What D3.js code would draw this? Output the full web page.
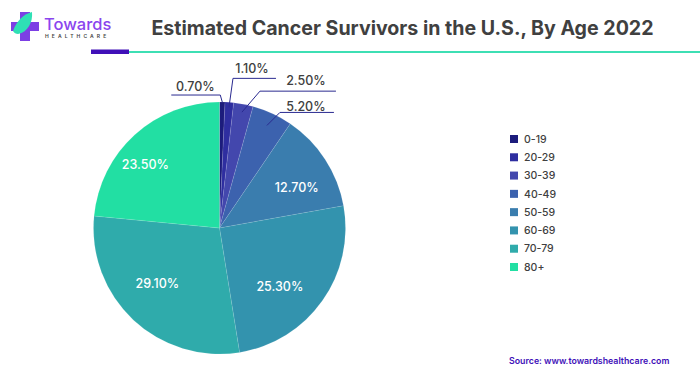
<!DOCTYPE html>
<html>
<head>
<meta charset="utf-8">
<script src="https://cdn.jsdelivr.net/npm/d3@7"></script>
<style>
html, body { margin: 0; padding: 0; background: #fff; }
svg { display: block; }
text { font-family: Inter, "Liberation Sans", sans-serif; }
</style>
</head>
<body>
<svg id="chart" width="700" height="375"></svg>
<script>
let ageGroups = ['0-19', '20-29', '30-39', '40-49', '50-59', '60-69', '70-79', '80+']
let shares = [0.7, 1.1, 2.5, 5.2, 12.7, 25.3, 29.1, 23.5]
let sliceColors = ['#1c1c7c', '#2e2ea0', '#4347ad', '#3c62ae', '#3a7dae', '#3393ae', '#2fabab', '#22dfa3']

let svg = d3.select('#chart')
let centerX = 219.5
let centerY = 228
let radius = 126

// logo
let logo = svg.append('g')
logo.append('path')
    .attr('d', 'M20 12H30V22H39V31H30V41H20V31H11V22H20Z')
    .attr('fill', '#7c3fe4')
logo.append('path')
    .attr('d', 'M13 31C17 20 24 14 32 12C33 22 28 32 18 34C16 34 14 33 13 31Z')
    .attr('fill', '#2fe0b5')
logo.append('text')
    .attr('x', 44).attr('y', 29.5)
    .attr('font-size', 16.5).attr('font-weight', 500)
    .attr('fill', '#8a45ee')
    .text('Towards')
logo.append('text')
    .attr('x', 45).attr('y', 38)
    .attr('font-size', 5).attr('font-weight', 600)
    .attr('letter-spacing', 3.1)
    .attr('fill', '#444')
    .text('HEALTHCARE')

// title and the rule under it
svg.append('text')
    .attr('x', 402.5).attr('y', 34.5)
    .attr('text-anchor', 'middle')
    .attr('font-size', 19.6).attr('font-weight', 700)
    .attr('fill', '#404040')
    .text('Estimated Cancer Survivors in the U.S., By Age 2022')
svg.append('rect').attr('x', 91).attr('y', 51).attr('width', 609).attr('height', 2).attr('fill', '#3ddfb4')
svg.append('rect').attr('x', 91).attr('y', 49.5).attr('width', 38).attr('height', 4.5).attr('fill', '#4010b8')

// pie
let pie = d3.pie().value(d => d).sort(null)
let arcs = pie(shares)
let arc = d3.arc().innerRadius(0).outerRadius(radius)

let pieGroup = svg.append('g')
    .attr('transform', 'translate(' + centerX + ',' + centerY + ')')

pieGroup.selectAll('path')
    .data(arcs)
    .enter().append('path')
    .attr('d', arc)
    .attr('fill', (d, i) => sliceColors[i])
    .attr('stroke', 'rgba(255,255,255,0.2)')
    .attr('stroke-width', 0.5)

// white labels inside the big slices, nudged from the centroid
let insideNudge = {4: [6, 6], 5: [-9, 9], 6: [-4, -6], 7: [-17, 0]}
let labelArc = d3.arc().innerRadius(85).outerRadius(85)

pieGroup.selectAll('.inside')
    .data(arcs.filter((d, i) => i > 3))
    .enter().append('text')
    .attr('class', 'inside')
    .attr('transform', d => {
        let c = labelArc.centroid(d)
        let n = insideNudge[d.index]
        return 'translate(' + (c[0] + n[0]) + ',' + (c[1] + n[1]) + ')'
    })
    .attr('text-anchor', 'middle')
    .attr('dy', '0.35em')
    .attr('font-size', 12.5).attr('font-weight', 500)
    .attr('fill', '#fff')
    .text(d => d.value.toFixed(2) + '%')

// leader lines for the four thin slices: start radius, elbow offset, run of the shelf
let leaderRadius = [126, 121, 118, 113]
let elbowOffset = [[-2, -7], [4, -29], [18, -21], [13, -13]]
let shelfRun = [-49, 43, 76, 54]
let leaderLabelOffset = [[-25, -4], [19, -5], [46, -6], [26, -1]]

arcs.slice(0, 4).forEach((d, i) => {
    let mid = (d.startAngle + d.endAngle) / 2
    let x0 = Math.sin(mid) * leaderRadius[i]
    let y0 = -Math.cos(mid) * leaderRadius[i]
    let x1 = x0 + elbowOffset[i][0]
    let y1 = y0 + elbowOffset[i][1]
    let x2 = x1 + shelfRun[i]

    pieGroup.append('path')
        .attr('d', d3.line()([[x0, y0], [x1, y1], [x2, y1]]))
        .attr('fill', 'none')
        .attr('stroke', '#2a2a90')
        .attr('stroke-width', 1)

    pieGroup.append('text')
        .attr('x', x1 + leaderLabelOffset[i][0])
        .attr('y', y1 + leaderLabelOffset[i][1])
        .attr('text-anchor', 'middle')
        .attr('font-size', 12.5).attr('font-weight', 500)
        .attr('fill', '#404040')
        .text(d.value.toFixed(2) + '%')
})

// legend
let legendY = d3.scalePoint().domain(ageGroups).range([139, 267])
let legend = svg.selectAll('.legend')
    .data(ageGroups)
    .enter().append('g')
    .attr('class', 'legend')
    .attr('transform', d => 'translate(510,' + legendY(d) + ')')

legend.append('rect')
    .attr('x', 0).attr('y', -4)
    .attr('width', 8).attr('height', 8)
    .attr('fill', (d, i) => sliceColors[i])
legend.append('text')
    .attr('x', 14)
    .attr('dy', '0.36em')
    .attr('font-size', 10.5).attr('font-weight', 500)
    .attr('fill', '#404040')
    .text(d => d)

// source
svg.append('text')
    .attr('x', 509).attr('y', 363.5)
    .attr('font-size', 8.8).attr('font-weight', 600)
    .attr('fill', '#4010b8')
    .text('Source: www.towardshealthcare.com')
</script>
</body>
</html>
